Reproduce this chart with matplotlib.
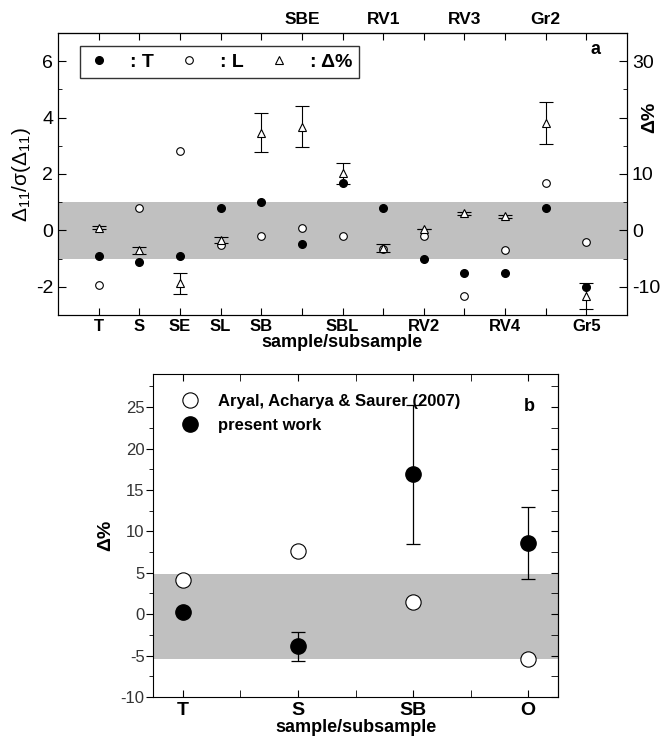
import matplotlib
matplotlib.use("Agg")
import matplotlib.pyplot as plt
from matplotlib.ticker import MultipleLocator, FixedLocator
import numpy as np

plt.rcParams['font.family'] = ['Liberation Sans', 'DejaVu Sans']
plt.rcParams['mathtext.fontset'] = 'custom'
plt.rcParams['mathtext.rm'] = 'Liberation Sans'
plt.rcParams['mathtext.it'] = 'Liberation Sans'
plt.rcParams['mathtext.bf'] = 'Liberation Sans:bold'
plt.rcParams['axes.unicode_minus'] = False

# ---------------- data: panel a ----------------
samples_a = ["T", "S", "SE", "SL", "SB", "SBE", "SBL", "RV1", "RV2", "RV3", "RV4", "Gr2", "Gr5"]
bottom_labels_a = ["T", "S", "SE", "SL", "SB", "", "SBL", "", "RV2", "", "RV4", "", "Gr5"]
top_labels_a = ["SBE", "RV1", "RV3", "Gr2"]
T_vals = [-0.92, -1.13, -0.92, 0.79, 1.0, -0.5, 1.69, 0.79, -1.03, -1.52, -1.52, 0.79, -2.01]
L_vals = [-1.93, 0.81, 2.81, -0.53, -0.21, 0.08, -0.21, -0.65, -0.21, -2.33, -0.71, 1.69, -0.41]
D_pct = [0.5, -3.5, -9.4, -1.7, 17.3, 18.4, 10.1, -3.2, 0.2, 3.0, 2.5, 19.0, -11.6]
D_err = [0.2, 0.6, 1.9, 0.5, 3.45, 3.6, 1.9, 0.7, 0.0, 0.3, 0.3, 3.7, 2.3]

# ---------------- data: panel b ----------------
samples_b = ["T", "S", "SB", "O"]
aryal_vals = [4.1, 7.6, 1.5, -5.4]
present_vals = [0.3, -3.9, 16.9, 8.6]
present_err = [0.0, 1.8, 8.4, 4.4]

fig = plt.figure(figsize=(6.68, 7.42), dpi=100)

# ================= panel a =================
ax = fig.add_axes([58/668, 1-315/742, 569/668, 282/742])
xa = np.arange(1, len(samples_a) + 1)
ax.axhspan(-1, 1, color='#c0c0c0', lw=0, zorder=0)
ax.plot(xa, T_vals, 'o', ms=5.5, mfc='black', mec='black', zorder=4)
ax.plot(xa, L_vals, 'o', ms=5.5, mfc='white', mec='black', mew=0.8, zorder=3)
ax.set_xlim(0, 14)
ax.set_ylim(-3, 7)
ax.yaxis.set_major_locator(MultipleLocator(2))
ax.yaxis.set_minor_locator(MultipleLocator(1))
ax.set_xticks(xa, bottom_labels_a)
ax.tick_params(axis='x', which='both', direction='in', top=True, length=5, pad=3,
               labelsize=12)
for lab in ax.get_xticklabels():
    lab.set_fontweight('bold')
ax.tick_params(axis='y', which='major', direction='in', length=6, labelsize=14)
ax.tick_params(axis='y', which='minor', direction='in', length=3)
ax.set_ylabel(r'$\Delta_{11}/\sigma(\Delta_{11})$', fontsize=15, labelpad=2)
ax.set_xlabel('sample/subsample', fontsize=13, fontweight='bold', labelpad=0)

sec = ax.secondary_xaxis('top')
sec.set_xticks([6, 8, 10, 12], top_labels_a)
sec.tick_params(length=0, labelsize=12.5, pad=4)
for lab in sec.get_xticklabels():
    lab.set_fontweight('bold')

ax2 = ax.twinx()
ax2.set_ylim(-15, 35)
ax2.errorbar(xa, D_pct, yerr=D_err, fmt='^', ms=6, mfc='white', mec='black', mew=0.8,
             ecolor='black', elinewidth=0.8, capsize=5, capthick=0.8, zorder=5)
ax2.yaxis.set_major_locator(FixedLocator([-10, 0, 10, 20, 30]))
ax2.set_yticklabels(['-10', '0', '10', '', '30'])
ax2.yaxis.set_minor_locator(MultipleLocator(5))
ax2.tick_params(axis='y', which='major', direction='in', length=6, labelsize=14)
ax2.tick_params(axis='y', which='minor', direction='in', length=3)
ax2.text(1.025, 0.7, 'Δ%', transform=ax2.transAxes, rotation=90, fontsize=14,
         fontweight='bold', ha='left', va='center')
ax2.text(0.945, 0.94, 'a', transform=ax2.transAxes, fontsize=13, fontweight='bold',
         ha='center', va='center')

hT = plt.Line2D([], [], marker='o', ls='none', ms=5.5, mfc='black', mec='black')
hL = plt.Line2D([], [], marker='o', ls='none', ms=5.5, mfc='white', mec='black', mew=0.8)
hD = plt.Line2D([], [], marker='^', ls='none', ms=5.5, mfc='white', mec='black', mew=0.8)
leg = ax2.legend([hT, hL, hD], [': T', ': L', ': Δ%'], ncol=3, loc='upper left',
                 bbox_to_anchor=(0.022, 0.987), frameon=True, fancybox=False,
                 edgecolor='black', handletextpad=1.0, columnspacing=1.2,
                 borderpad=0.35, handlelength=1.2, prop={'weight': 'bold', 'size': 14})
leg.get_frame().set_linewidth(1.0)

# ================= panel b =================
bx = fig.add_axes([153/668, 1-697/742, 405/668, 323/742])
xb = np.arange(len(samples_b))
bx.axhspan(-5.45, 4.8, color='#c0c0c0', lw=0, zorder=0)
bx.plot(xb, aryal_vals, 'o', ms=11, mfc='white', mec='black', mew=0.8, zorder=3)
bx.errorbar(xb, present_vals, yerr=present_err, fmt='o', ms=11, mfc='black', mec='black',
            ecolor='black', elinewidth=0.9, capsize=5, capthick=0.9, zorder=4)
bx.set_xlim(-0.26, 3.26)
bx.set_ylim(-10, 29)
bx.set_xticks(xb, samples_b)
bx.xaxis.set_minor_locator(FixedLocator([0.5, 1.5, 2.5]))
bx.tick_params(axis='x', which='both', direction='in', top=True, length=5, labelsize=14)
for lab in bx.get_xticklabels():
    lab.set_fontweight('bold')
bx.yaxis.set_major_locator(MultipleLocator(5))
bx.yaxis.set_minor_locator(MultipleLocator(2.5))
bx.tick_params(axis='y', which='both', direction='out', right=False, length=5,
               labelsize=12, pad=1)
bx.tick_params(axis='y', which='minor', length=3)
for lab in bx.get_yticklabels():
    lab.set_color('#333333')
bxr = bx.secondary_yaxis('right')
bxr.yaxis.set_major_locator(MultipleLocator(5))
bxr.yaxis.set_minor_locator(MultipleLocator(2.5))
bxr.tick_params(which='both', direction='in', length=5, labelright=False)
bxr.tick_params(which='minor', length=5)
bx.set_ylabel('Δ%', fontsize=14, fontweight='bold', labelpad=0)
bx.yaxis.set_label_coords(-0.095, 0.5)
bx.set_xlabel('sample/subsample', fontsize=13, fontweight='bold', labelpad=0)
hA = plt.Line2D([], [], marker='o', ls='none', ms=11, mfc='white', mec='black', mew=0.8)
hP = plt.Line2D([], [], marker='o', ls='none', ms=11, mfc='black', mec='black')
bx.legend([hA, hP], ['Aryal, Acharya & Saurer (2007)', 'present work'],
          loc='upper left', bbox_to_anchor=(0.03, 0.985), frameon=False,
          handletextpad=1.1, labelspacing=0.55, handlelength=1.2,
          prop={'weight': 'bold', 'size': 12})
bx.text(0.93, 0.9, 'b', transform=bx.transAxes, fontsize=13, fontweight='bold',
        ha='center', va='center')

fig.savefig('out.png', dpi=100)
